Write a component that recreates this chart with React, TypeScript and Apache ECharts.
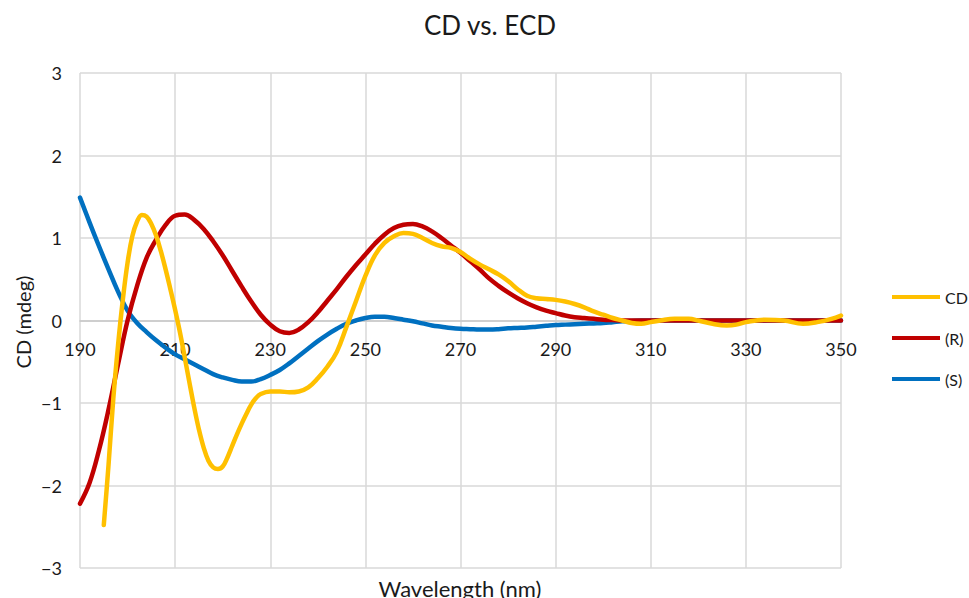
import React, { useEffect, useRef } from "react";
import * as echarts from "echarts";

const title = "CD vs. ECD";
const xName = "Wavelength (nm)";
const yName = "CD (mdeg)";
const seriesNames = ["CD", "(R)", "(S)"];
const colors = ["#FFC000", "#C00000", "#0070C0"];

const cdX = [195,196,197,198,199,200,201,202,203,204,205,206,207,208,209,210,211,212,213,214,215,216,217,218,219,220,221,222,223,224,225,226,227,228,230,232,234,236,238,240,242,244,246,248,250,252,254,256,258,260,262,264,266,268,270,272,274,276,278,280,282,284,286,288,290,292,294,296,298,300,302,304,306,308,310,312,315,318,320,323,326,328,330,334,338,342,345,348,350];
const cdY = [-2.48,-1.75,-0.95,-0.30,0.25,0.70,1.02,1.20,1.28,1.26,1.17,1.03,0.84,0.62,0.38,0.13,-0.14,-0.44,-0.75,-1.05,-1.32,-1.54,-1.70,-1.78,-1.80,-1.77,-1.66,-1.52,-1.38,-1.25,-1.13,-1.02,-0.94,-0.89,-0.86,-0.86,-0.87,-0.86,-0.81,-0.70,-0.56,-0.38,-0.08,0.23,0.54,0.79,0.94,1.02,1.06,1.05,1.00,0.94,0.90,0.88,0.83,0.75,0.68,0.62,0.56,0.48,0.38,0.30,0.27,0.26,0.25,0.23,0.20,0.16,0.11,0.07,0.03,0.00,-0.03,-0.04,-0.02,0.00,0.02,0.02,0.00,-0.04,-0.06,-0.05,-0.02,0.01,0.00,-0.04,-0.02,0.02,0.06];

const rX = [190,192,194,196,198,200,202,204,206,208,210,212,214,216,218,220,222,224,226,228,230,232,234,236,238,240,242,244,246,248,250,252,254,256,258,260,262,264,266,268,270,272,274,276,278,280,282,284,286,288,290,292,294,296,298,300,302,304,310,320,330,340,350];
const rY = [-2.22,-1.97,-1.57,-1.08,-0.53,0.00,0.42,0.76,0.98,1.16,1.27,1.285,1.22,1.11,0.96,0.79,0.60,0.41,0.23,0.07,-0.05,-0.13,-0.15,-0.11,-0.02,0.10,0.24,0.38,0.53,0.67,0.80,0.93,1.04,1.12,1.16,1.17,1.14,1.08,1.00,0.91,0.82,0.72,0.62,0.51,0.42,0.34,0.27,0.21,0.16,0.12,0.09,0.06,0.04,0.03,0.02,0.01,0.005,0.00,0.00,0.00,0.00,0.00,0.00];

const sX = [190,192,194,196,198,200,202,204,206,208,210,212,214,216,218,220,222,224,226,228,230,232,234,236,238,240,242,244,246,248,250,252,254,256,258,260,262,264,266,268,270,272,274,276,278,280,282,284,286,288,290,292,294,296,298,300,302,304,306,308,310,320,330,340,350];
const sY = [1.49,1.19,0.90,0.62,0.35,0.12,-0.03,-0.14,-0.24,-0.33,-0.41,-0.47,-0.53,-0.59,-0.65,-0.69,-0.72,-0.74,-0.74,-0.71,-0.66,-0.60,-0.52,-0.43,-0.34,-0.25,-0.17,-0.10,-0.04,0.00,0.03,0.045,0.045,0.03,0.01,-0.01,-0.035,-0.06,-0.075,-0.09,-0.10,-0.105,-0.11,-0.11,-0.105,-0.095,-0.09,-0.085,-0.075,-0.065,-0.055,-0.05,-0.045,-0.04,-0.035,-0.03,-0.02,-0.01,-0.005,0.00,0.00,0.00,0.00,0.00,0.00];

const FONT = "Lato, 'Open Sans', sans-serif";
const GRID_TOP = 73;
const GRID_BOTTOM = 30;
const H = 598;

function pairs(xs: number[], ys: number[]) {
  return xs.map((x, i) => [x, ys[i]]);
}

export default function App() {
  const ref = useRef<HTMLDivElement>(null);
  useEffect(() => {
    document.body.style.margin = "0";
    const chart = echarts.init(ref.current!, null, { renderer: "svg" });
    const datas = [pairs(cdX, cdY), pairs(rX, rY), pairs(sX, sY)];
    const plotH = H - GRID_TOP - GRID_BOTTOM;
    chart.setOption({
      animation: false,
      backgroundColor: "#ffffff",
      title: {
        text: title,
        left: 485,
        top: 7,
        textAlign: "center",
        textStyle: { fontFamily: FONT, fontSize: 26, fontWeight: "normal", color: "#1a1a1a" },
      },
      grid: {
        left: 80,
        right: 128,
        top: GRID_TOP,
        bottom: GRID_BOTTOM,
        containLabel: false,
        outerBoundsMode: "none",
      },
      legend: {
        orient: "vertical",
        left: 892,
        top: 289,
        padding: 0,
        icon: "rect",
        itemWidth: 48,
        itemHeight: 4,
        itemGap: 25,
        data: seriesNames,
        textStyle: { fontFamily: FONT, fontSize: 16, color: "#1a1a1a" },
      },
      xAxis: {
        type: "value",
        min: 190,
        max: 350,
        interval: 20,
        position: "bottom",
        offset: -plotH / 2,
        axisLine: { show: true, onZero: false, lineStyle: { color: "#c8c8c8", width: 1.5 } },
        axisTick: { show: false },
        splitLine: { show: true, lineStyle: { color: "#d9d9d9", width: 1.5 } },
        axisLabel: { fontFamily: FONT, fontSize: 18, color: "#1a1a1a", margin: 19 },
      },
      yAxis: {
        type: "value",
        min: -3,
        max: 3,
        interval: 1,
        axisLine: { show: false },
        axisTick: { show: false },
        splitLine: { show: true, lineStyle: { color: "#d9d9d9", width: 1.5 } },
        axisLabel: {
          fontFamily: FONT,
          fontSize: 18,
          color: "#1a1a1a",
          margin: 18,
          formatter: (v: number) => (v < 0 ? "\u2212" + Math.abs(v) : String(v)),
        },
      },
      graphic: [
        {
          type: "text",
          x: 460,
          y: 588,
          style: {
            text: xName,
            font: `22px ${FONT}`,
            fill: "#1a1a1a",
            textAlign: "center",
            textVerticalAlign: "middle",
          },
        },
        {
          type: "text",
          x: 23,
          y: 322,
          rotation: Math.PI / 2,
          style: {
            text: yName,
            font: `20px ${FONT}`,
            fill: "#1a1a1a",
            textAlign: "center",
            textVerticalAlign: "middle",
          },
        },
      ],
      series: seriesNames.map((name, i) => ({
        name,
        type: "line",
        data: datas[i],
        smooth: 0.4,
        showSymbol: false,
        symbol: "none",
        itemStyle: { color: colors[i] },
        lineStyle: { color: colors[i], width: 4.5, cap: "round", join: "round" },
        z: 3 - i,
      })),
    });
    return () => chart.dispose();
  }, []);
  return <div ref={ref} style={{ width: 969, height: 598 }} />;
}
